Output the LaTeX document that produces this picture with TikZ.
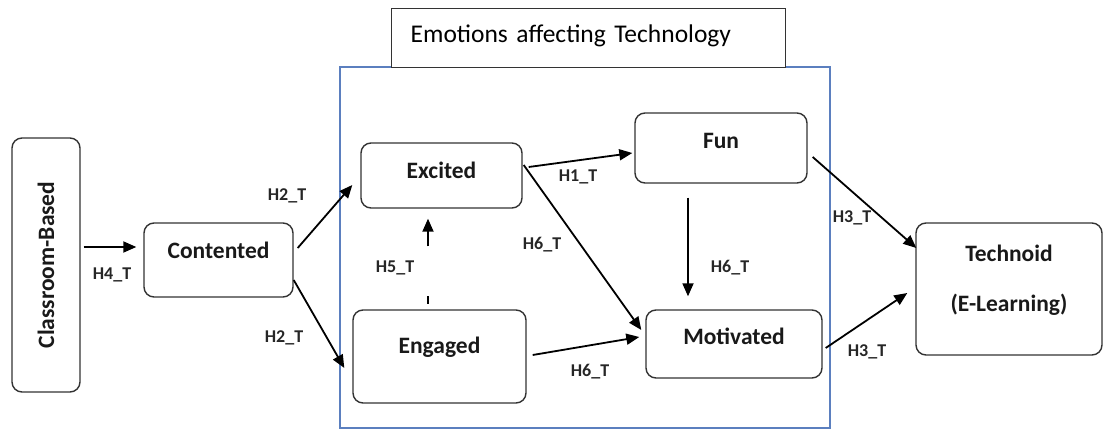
\documentclass[tikz,border=0pt]{standalone}
\usepackage{fontspec}
\setmainfont{Carlito}
\usetikzlibrary{arrows.meta,calc}
\definecolor{framblue}{HTML}{5B7FBF}
\definecolor{boxgray}{HTML}{333333}
\tikzset{
  box/.style={draw=boxgray, line width=1.4pt, rounded corners=10pt, inner sep=0pt,
    font=\fontsize{23.5}{28}\selectfont\bfseries, align=center, text=black!90},
  lbl/.style={font=\fontsize{18}{20}\selectfont\bfseries, inner sep=0pt, text=black!85},
  arr/.style={line width=1.8pt, -{Triangle[length=13pt,width=11pt]}},
}
\begin{document}
\begin{tikzpicture}[x=1pt,y=-1pt]
\useasboundingbox (0,0) rectangle (1104,430);
% frame
\draw[framblue, line width=1.2pt] (340,67) rectangle (830,428);
\node[draw=boxgray, line width=1.4pt, fill=white, anchor=north west, inner xsep=19pt, inner ysep=0pt,
  text width=356pt, text height=34pt, text depth=25pt, align=left,
  font=\fontsize{25.5}{30}\selectfont] (title) at (391,8) {Emotions affecting Technology};
% nodes
\node[box, rotate=90, minimum width=254pt, minimum height=68pt] (cls) at (46,265) {Classroom-Based};
\node[box, minimum width=149pt, text height=36pt, text depth=38pt] (con) at (218.5,260) {Contented};
\node[box, minimum width=161pt, text height=36pt, text depth=29pt] (exc) at (441.5,175.5) {Excited};
\node[box, minimum width=173pt, text height=44pt, text depth=49pt] (eng) at (439.5,356.5) {Engaged};
\node[box, minimum width=172pt, text height=36pt, text depth=34pt] (fun) at (721,148) {Fun};
\node[box, minimum width=176pt, text height=35pt, text depth=33pt] (mot) at (734,344) {Motivated};
\node[box, minimum width=186pt, text height=89pt, text depth=43pt,
  font=\fontsize{23.5}{50}\selectfont\bfseries] (tec) at (1009,289) {Technoid\\(E-Learning)};
% connectors
\draw[arr] ($(cls.south)+(3,-18)$) -- ($(con.west)+(-7,-13)$);
\draw[arr] ($(con.east)+(4,-12)$) -- ($(exc.west)+(-8,9.5)$);
\draw[arr] ($(con.east)+(0,20)$) -- ($(eng.west)+(-8,11.5)$);
\draw[arr] ($(exc.east)+(6,-8.5)$) -- ($(fun.west)+(-2,5)$);
\draw[arr] ($(exc.east)+(1,-10.5)$) -- ($(mot.west)+(-4,-14)$);
\draw[arr] ($(eng.east)+(6,-1.5)$) -- ($(mot.west)+(-6,-7)$);
\draw[arr] ($(fun.south)+(-33,14)$) -- ($(mot.north)+(-46,-13)$);
\draw[arr] ($(fun.east)+(5,9)$) -- ($(tec.west)+(1,-41)$);
\draw[arr] ($(mot.east)+(3,4)$) -- ($(tec.west)+(-8,4)$);
\draw[arr] ($(eng.north)+(-11.5,-63)$) -- ($(exc.south)+(-13.5,10)$);
\draw[line width=1.5pt] ($(eng.north)+(-11.5,-13)$) -- ($(eng.north)+(-11.5,-5)$);
% labels
\node[lbl] (l1) at (112,275) {H4\_T};
\node[lbl] (l2) at (287,196) {H2\_T};
\node[lbl] (l3) at (284,338) {H2\_T};
\node[lbl] (l4) at (578,177) {H1\_T};
\node[lbl] (l5) at (542,245) {H6\_T};
\node[lbl] (l6) at (395,268) {H5\_T};
\node[lbl] (l7) at (590,372) {H6\_T};
\node[lbl] (l8) at (730,268) {H6\_T};
\node[lbl] (l9) at (852,218) {H3\_T};
\node[lbl] (l10) at (867,352) {H3\_T};
\end{tikzpicture}
\end{document}
